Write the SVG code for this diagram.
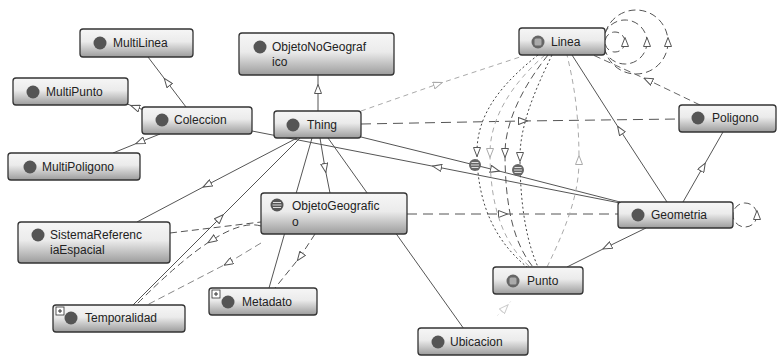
<svg xmlns="http://www.w3.org/2000/svg" width="778" height="356" viewBox="0 0 778 356">
<defs>
<linearGradient id="g" x1="0" y1="0" x2="0" y2="1">
<stop offset="0" stop-color="#f6f6f6"/>
<stop offset="0.45" stop-color="#ebebeb"/>
<stop offset="1" stop-color="#9c9c9c"/>
</linearGradient>
<marker id="tri" viewBox="0 0 10 8" refX="5" refY="4" markerWidth="10" markerHeight="8" markerUnits="userSpaceOnUse" orient="auto">
<path d="M0.5,0.5 L9.5,4 L0.5,7.5 Z" fill="#fff" stroke="#555" stroke-width="1"/>
</marker>
<marker id="trig" viewBox="0 0 10 8" refX="5" refY="4" markerWidth="10" markerHeight="8" markerUnits="userSpaceOnUse" orient="auto">
<path d="M0.5,0.5 L9.5,4 L0.5,7.5 Z" fill="#fff" stroke="#aaa" stroke-width="1"/>
</marker>
<marker id="trif" viewBox="0 0 10 8" refX="5" refY="4" markerWidth="10" markerHeight="8" markerUnits="userSpaceOnUse" orient="auto">
<path d="M0.5,0.5 L9.5,4 L0.5,7.5 Z" fill="#fff" stroke="#ccc" stroke-width="1"/>
</marker>
</defs>
<style>
.box{fill:url(#g);stroke:#333;stroke-width:1.3}
.ic{fill:#555}
.lbl{font-family:"Liberation Sans",Arial,sans-serif;font-size:12px;fill:#222}
.e{fill:none;stroke:#555;stroke-width:1}
.a{marker-mid:url(#tri)}
.ag{marker-mid:url(#trig)}
.d1{stroke-dasharray:10 6}
.d2{stroke-dasharray:7 4}
.dot{stroke-dasharray:2 2.5;stroke:#444}
.lg{stroke:#aaa;stroke-dasharray:5 4}
.mg{stroke:#888;stroke-dasharray:7 4}
.eq{fill:#666}
.eql{stroke:#ddd;stroke-width:1}
.plus{fill:#fff;stroke:#333;stroke-width:0.8}
</style>

<g id="connectors">
<path class="e a" d="M186,107 L167,82 L148,57"/>
<path class="e a" d="M150,112 L135,107 L122,102"/>
<path class="e a" d="M160,134 L140,142 L113,153"/>
<path class="e a" d="M318,111 L318,89 L318,75"/>
<path class="e a" d="M620,203 L437,167 L252,131"/>
<path class="e a" d="M361,137 L495,170 L620,202"/>
<path class="e a d1" d="M361,124 L523,121 L679,119"/>
<path class="e ag lg" d="M361,111 L438,84 L520,57"/>
<path class="e a" d="M297,138 L207,185 L137,222"/>
<path class="e a" d="M133,305 L220,218 L300,138"/>
<path class="e a" d="M320,138 L325,168 L330,193"/>
<path class="e" d="M312,138 L269,288"/>
<path class="e" d="M328,138 L464,329"/>
<path class="e a d1" d="M407,214 L503,214 L618,214"/>
<path class="e a" d="M667,202 L620,130 L572,55"/>
<path class="e a" d="M683,202 L703,167 L723,132"/>
<path class="e a d2" style="stroke:#666" d="M700,105 L648,80 L593,55"/>
<path class="e a" d="M646,228 L607,247 L567,267"/>
<!-- Linea self loops -->
<circle class="e d2" cx="615" cy="42" r="10"/>
<circle class="e d2" cx="625" cy="42" r="22"/>
<circle class="e d2" cx="636" cy="42" r="32"/>
<path class="a" style="stroke:none;fill:none" d="M625,44 L625,42 L625,40"/>
<path class="a" style="stroke:none;fill:none" d="M647,44 L647,42 L647,40"/>
<path class="a" style="stroke:none;fill:none" d="M668,44 L668,42 L668,40"/>
<!-- Geometria self loop -->
<circle class="e d2" cx="745" cy="215" r="12"/>
<path class="a" style="stroke:none;fill:none" d="M757,217 L757,215 L757,213"/>
<!-- Linea - Punto curves -->
<path class="e a dot" d="M538,55 C500,85 477,115 477,152 C477,210 500,245 527,267"/>
<path class="e ag lg" d="M545,55 C510,85 490,120 490,153 C490,210 505,245 530,267"/>
<path class="e a d2" d="M548,55 C520,90 505,125 505,153 C505,210 515,245 533,267"/>
<path class="e a dot" d="M552,55 C535,90 520,125 520,157 C520,210 528,245 538,267"/>
<path class="e ag lg" d="M547,267 C570,220 579,190 579,160 C579,110 573,80 567,55"/>
<!-- left cluster -->
<path class="e d2" d="M170,233 L261,222"/>
<path class="e a d2" d="M261,226 Q243,220.5 211.75,240.25 Q180.5,260 136,305"/>
<path class="e a mg" d="M261,243 L228,263 L147,305"/>
<path class="e a d2" d="M315,234 L300,257 L275,288"/>
<!-- faint Ubicacion line -->
<path class="e" style="stroke:#ececec;stroke-dasharray:3 3;marker-mid:url(#trif)" d="M497,316 L505,308 L511,301"/>
<!-- equivalence decorations -->
<g>
<circle class="eq" cx="475" cy="165" r="6"/>
<path class="eql" d="M471.5,162.5 H478.5 M471,165 H479 M471.5,167.5 H478.5"/>
<circle class="eq" cx="518" cy="170" r="6"/>
<path class="eql" d="M514.5,167.5 H521.5 M514,170 H522 M514.5,172.5 H521.5"/>
</g>
</g>

<g id="MultiLinea"><rect class="box" x="80" y="29" width="113" height="28" rx="3"/><circle class="ic" cx="100" cy="43" r="6.5"/><text class="lbl" x="113" y="47">MultiLinea</text></g>
<g id="MultiPunto"><rect class="box" x="13" y="78" width="115" height="27" rx="3"/><circle class="ic" cx="33" cy="92" r="6.5"/><text class="lbl" x="46" y="96">MultiPunto</text></g>
<g id="Coleccion"><rect class="box" x="142" y="107" width="110" height="27" rx="3"/><circle class="ic" cx="162" cy="120" r="6.5"/><text class="lbl" x="174" y="124">Coleccion</text></g>
<g id="MultiPoligono"><rect class="box" x="8" y="153" width="132" height="27" rx="3"/><circle class="ic" cx="30" cy="167" r="6.5"/><text class="lbl" x="42" y="171">MultiPoligono</text></g>
<g id="ObjetoNoGeografico"><rect class="box" x="239" y="33" width="155" height="42" rx="3"/><circle class="ic" cx="260" cy="47" r="6.5"/><text class="lbl" x="272" y="51">ObjetoNoGeograf</text><text class="lbl" x="272" y="66">ico</text></g>
<g id="Thing"><rect class="box" x="274" y="111" width="87" height="27" rx="3"/><circle class="ic" cx="293" cy="125" r="6.5"/><text class="lbl" x="307" y="129">Thing</text></g>
<g id="Linea"><rect class="box" x="519" y="28" width="86" height="27" rx="3"/><circle cx="538" cy="42" r="6.5" fill="#666"/><rect x="534.5" y="38.5" width="7" height="7" rx="1.5" fill="#aaa"/><text class="lbl" x="551" y="46">Linea</text></g>
<g id="Poligono"><rect class="box" x="679" y="105" width="97" height="27" rx="3"/><circle class="ic" cx="698" cy="118" r="6.5"/><text class="lbl" x="712" y="122">Poligono</text></g>
<g id="SistemaReferenciaEspacial"><rect class="box" x="18" y="222" width="152" height="41" rx="3"/><circle class="ic" cx="38" cy="235" r="6.5"/><text class="lbl" x="50" y="239">SistemaReferenc</text><text class="lbl" x="50" y="254">iaEspacial</text></g>
<g id="ObjetoGeografico"><rect class="box" x="261" y="193" width="146" height="41" rx="3"/><circle cx="277" cy="205" r="6.5" fill="#555"/><path d="M273,202.5 H281 M272.5,205 H281.5 M273,207.5 H281" stroke="#ddd" stroke-width="1.2"/><text class="lbl" x="292" y="210">ObjetoGeografic</text><text class="lbl" x="292" y="226">o</text></g>
<g id="Temporalidad"><rect class="box" x="53" y="305" width="132" height="27" rx="3"/><rect class="plus" x="56" y="307" width="8" height="8"/><path d="M58,311 H62 M60,309 V313" stroke="#333" stroke-width="1"/><circle class="ic" cx="71" cy="318" r="6.5"/><text class="lbl" x="85" y="322">Temporalidad</text></g>
<g id="Metadato"><rect class="box" x="209" y="288" width="108" height="27" rx="3"/><rect class="plus" x="212" y="290" width="8" height="8"/><path d="M214,294 H218 M216,292 V296" stroke="#333" stroke-width="1"/><circle class="ic" cx="228" cy="302" r="6.5"/><text class="lbl" x="242" y="306">Metadato</text></g>
<g id="Ubicacion"><rect class="box" x="418" y="328" width="110" height="27" rx="3"/><circle class="ic" cx="438" cy="342" r="6.5"/><text class="lbl" x="450" y="346">Ubicacion</text></g>
<g id="Geometria"><rect class="box" x="618" y="202" width="115" height="26" rx="3"/><circle class="ic" cx="638" cy="215" r="6.5"/><text class="lbl" x="651" y="219">Geometria</text></g>
<g id="Punto"><rect class="box" x="493" y="267" width="90" height="27" rx="3"/><circle cx="513" cy="281" r="6.5" fill="#666"/><rect x="509.5" y="277.5" width="7" height="7" rx="1.5" fill="#aaa"/><text class="lbl" x="527" y="285">Punto</text></g>
</svg>
